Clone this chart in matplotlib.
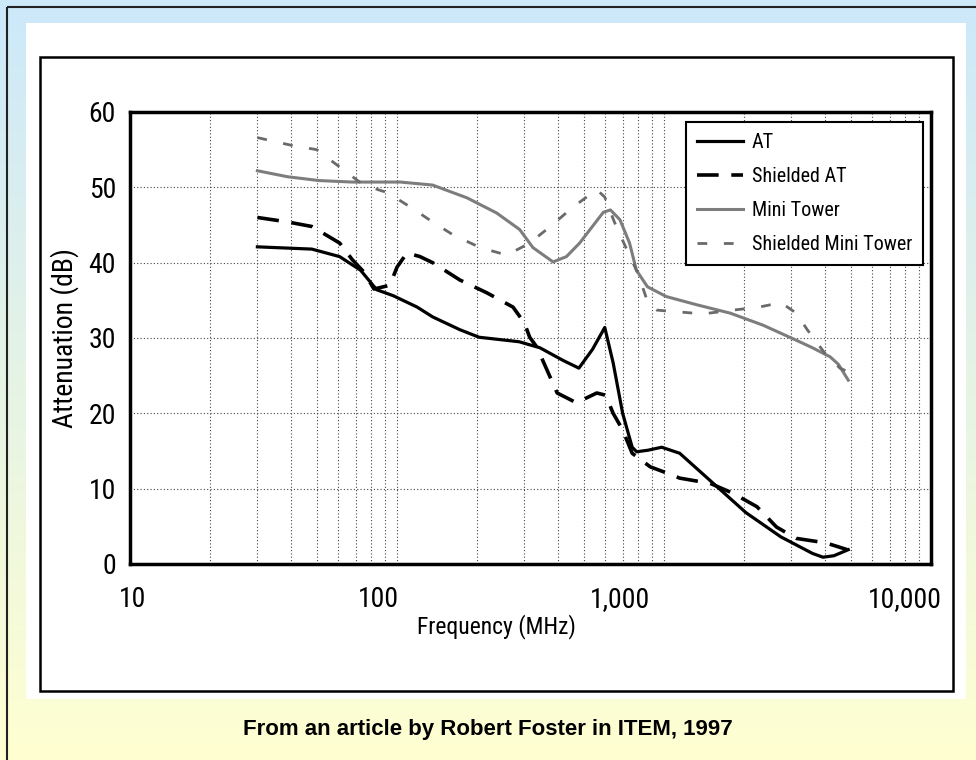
import numpy as np
import matplotlib.pyplot as plt
import matplotlib.ticker as mticker
from matplotlib.patches import Rectangle
from matplotlib import font_manager
from matplotlib.transforms import ScaledTranslation

# the scanned chart uses a condensed sans serif
names = {f.name for f in font_manager.fontManager.ttflist}
if 'Roboto Condensed' in names:
    COND = {'family': 'Roboto Condensed'}
else:
    COND = {'family': 'DejaVu Sans', 'stretch': 'condensed'}

# data
freq_at = [30, 48, 61, 73, 84, 92, 97, 119, 136, 172, 203, 287, 343, 420, 480,
           540, 600, 645, 700, 760, 790, 870, 980, 1145, 1530, 2030, 2740, 3600,
           3940, 4330, 4900]
att_at = [42.1, 41.8, 40.8, 39.0, 36.4, 35.9, 35.6, 34.1, 32.8, 31.1, 30.1, 29.5,
          28.7, 27.0, 26.0, 28.5, 31.4, 26.7, 20.0, 15.5, 14.9, 15.1, 15.5, 14.7,
          10.7, 6.8, 3.6, 1.4, 0.9, 1.1, 1.9]

freq_sat = [30, 39, 48, 61, 68, 75, 82, 94, 100, 109, 122, 136, 172, 217, 272, 300,
            314, 334, 398, 470, 560, 605, 645, 700, 760, 888, 1020, 1145, 1490,
            1810, 2230, 2640, 3130, 4040, 4860]
att_sat = [46.0, 45.4, 44.8, 42.6, 40.4, 38.8, 36.5, 37.0, 39.4, 41.3, 40.8, 40.0,
           37.7, 36.0, 34.1, 32.0, 30.1, 28.8, 22.7, 21.4, 22.7, 22.4, 20.0, 17.8,
           14.7, 12.9, 12.1, 11.4, 10.7, 9.4, 7.6, 4.9, 3.4, 2.8, 1.9]

freq_mt = [30, 39, 51, 68, 103, 136, 183, 236, 288, 323, 384, 431, 483, 593, 630,
           684, 743, 788, 867, 1020, 1330, 1770, 2350, 3130, 3600, 4190, 4500, 4900]
att_mt = [52.2, 51.4, 50.9, 50.7, 50.7, 50.3, 48.6, 46.6, 44.4, 42.0, 40.1, 40.8,
          42.6, 46.7, 47.0, 45.7, 42.6, 39.0, 36.8, 35.5, 34.4, 33.3, 31.7, 29.7,
          28.7, 27.5, 26.5, 24.4]

freq_smt = [30, 40, 50, 61, 75, 92, 112, 136, 162, 205, 258, 314, 375, 457, 560,
            600, 650, 720, 800, 870, 940, 1100, 1400, 1810, 2270, 2740, 3130, 3440,
            4000, 4560, 4900]
att_smt = [56.6, 55.6, 55.0, 52.7, 50.3, 49.3, 47.4, 45.4, 43.7, 42.0, 41.0, 42.6,
           44.8, 47.4, 49.7, 48.7, 45.5, 42.0, 38.5, 34.7, 33.7, 33.5, 33.2, 33.7,
           34.1, 34.7, 33.3, 31.1, 28.0, 26.0, 25.5]

labels = ['AT', 'Shielded AT', 'Mini Tower', 'Shielded Mini Tower']
x_ticks = [10, 100, 1000, 10000]
x_ticklabels = ['10', '100', '1,000', '10,000']
y_ticks = [0, 10, 20, 30, 40, 50, 60]

W, H = 976, 760
fig = plt.figure(figsize=(W / 100, H / 100), dpi=100)

# page background: gradient, white panel, frames
bg = fig.add_axes([0, 0, 1, 1], zorder=-10)
top_c = np.array([0.80, 0.91, 0.98])
bot_c = np.array([1.00, 1.00, 0.82])
t = np.linspace(0, 1, 256)[:, None, None]
grad = top_c * (1 - t) + bot_c * t
bg.imshow(np.repeat(grad, 2, axis=1), extent=[0, W, H, 0], aspect='auto')
bg.set_xlim(0, W)
bg.set_ylim(H, 0)
bg.axis('off')
bg.add_patch(Rectangle((7, 7), W + 20, H + 20, fill=False, ec='#222222', lw=1.5))
bg.add_patch(Rectangle((26, 23), 940, 676, fc='white', ec='none'))
bg.add_patch(Rectangle((40, 57), 913, 634, fill=False, ec='black', lw=1.8))
bg.text(488, 730, 'From an article by Robert Foster in ITEM, 1997', ha='center',
        va='center', fontsize=16, fontweight='bold', family='Liberation Sans')

# chart
ax = fig.add_axes([130 / W, (H - 564) / H, 801 / W, 452 / H])
ax.plot(freq_at, att_at, color='black', lw=2.3)
ax.plot(freq_sat, att_sat, color='black', lw=2.6, dashes=(6, 3.5))
ax.plot(freq_mt, att_mt, color='#7d7d7d', lw=2.2)
ax.plot(freq_smt, att_smt, color='#6a6a6a', lw=2.0, dashes=(3.5, 6))

ax.set_xscale('log')
ax.set_xlim(10, 10000)
ax.set_ylim(0, 60)
ax.set_yticks(y_ticks)
ax.set_xticks(x_ticks)
ax.set_xticklabels(x_ticklabels)
ax.xaxis.set_minor_locator(mticker.LogLocator(base=10, subs=np.arange(2, 10)))
ax.xaxis.set_minor_formatter(mticker.NullFormatter())
ax.tick_params(which='both', length=0)
ax.tick_params(axis='x', pad=16)
ax.tick_params(axis='y', pad=10)
for lab in ax.get_xticklabels() + ax.get_yticklabels():
    lab.set(**COND, fontsize=20)
ax.grid(True, which='both', axis='x', ls=(0, (1, 2)), color='#444444', lw=0.8)
ax.grid(True, which='major', axis='y', ls=(0, (1, 2)), color='#444444', lw=0.8)
for s in ax.spines.values():
    s.set_linewidth(2.5)

# labels in the scan sit left of their gridlines
shifts = [0.03, -0.19, -0.44, -0.26]
for lab, dx in zip(ax.get_xticklabels(), shifts):
    lab.set_transform(lab.get_transform() + ScaledTranslation(dx, 0, fig.dpi_scale_trans))

ax.set_xlabel('Frequency (MHz)', **COND, fontsize=17)
ax.xaxis.set_label_coords((496 - 130) / 801, -(614 - 564) / 452)
ax.set_ylabel('Attenuation (dB)', **COND, fontsize=20, labelpad=7)

leg = ax.legend(labels, loc='upper right', bbox_to_anchor=(0.990, 0.978),
                borderaxespad=0, fancybox=False, edgecolor='black', framealpha=1,
                prop=dict(COND, size=14.5), handlelength=2.3,
                handletextpad=0.4, labelspacing=0.75, borderpad=0.55)
leg.get_frame().set_linewidth(1.5)

fig.savefig('out.png', dpi=100)
